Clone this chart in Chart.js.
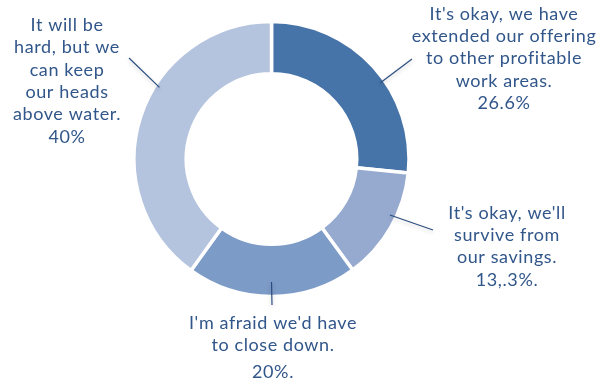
<!DOCTYPE html>
<html>
<head>
<meta charset="utf-8">
<script src="https://cdn.jsdelivr.net/npm/chart.js@4/dist/chart.umd.min.js"></script>
<style>
  html,body{margin:0;padding:0;background:#fff}
  #wrap{width:600px;height:382px;position:relative}
</style>
</head>
<body>
<div id="wrap"><canvas id="pie"></canvas></div>
<script>
// answers + their share of respondents
const answers = [
  "It's okay, we have\nextended our offering\nto other profitable\nwork areas.",
  "It's okay, we'll\nsurvive from\nour savings.",
  "I'm afraid we'd have\nto close down.",
  "It will be\nhard, but we\ncan keep\nour heads\nabove water."
];
const shares     = [26.6, 13.3, 20, 40];
const shareText  = ['26.6%', '13,.3%.', '20%.', '40%'];
const sliceColors = ['#4673a8', '#96aad0', '#7d9bc7', '#b4c3de'];

const TEXT_COL = '#31568a';
const FONT = '18px Lato, "Open Sans", sans-serif';

/* where each callout sits: text centre / first line, leader start (polar) and end */
const callouts = [
  { x:504, y:14,  lh:22.3, gap:0, ang:-35,    r:133, ex:412, ey:59 },
  { x:507, y:213, lh:22.3, gap:0, ang:25.3,   r:131, ex:433, ey:230 },
  { x:273, y:323, lh:22,   gap:5, ang:90,     r:123, ex:272, ey:305 },
  { x:67,  y:25,  lh:22.4, gap:0, ang:-147.4, r:133, ex:129, ey:58 }
];

const calloutPlugin = {
  id:'callouts',
  afterDatasetsDraw(chart){
    const ctx = chart.ctx;
    const arcs = chart.getDatasetMeta(0).data;
    ctx.save();
    arcs.forEach((arc, i) => {
      const c = callouts[i];
      const a = c.ang * Math.PI / 180;
      const sx = arc.x + Math.cos(a) * c.r;
      const sy = arc.y + Math.sin(a) * c.r;

      // leader line with a soft drop shadow
      ctx.save();
      ctx.shadowColor = 'rgba(0,0,0,0.22)';
      ctx.shadowBlur = 4;
      ctx.shadowOffsetY = 2;
      ctx.strokeStyle = '#2b4e80';
      ctx.lineWidth = 1.2;
      ctx.beginPath();
      ctx.moveTo(sx, sy);
      ctx.lineTo(c.ex, c.ey);
      ctx.stroke();
      ctx.restore();

      // text block
      ctx.fillStyle = TEXT_COL;
      ctx.font = FONT;
      ctx.letterSpacing = '0.6px';
      ctx.textAlign = 'center';
      ctx.textBaseline = 'middle';
      const lines = chart.data.labels[i].split('\n');
      lines.forEach((ln, k) => ctx.fillText(ln, c.x, c.y + k * c.lh));
      ctx.fillText(shareText[i], c.x, c.y + lines.length * c.lh + c.gap);
    });
    ctx.restore();
  }
};

new Chart(document.getElementById('pie'), {
  type:'doughnut',
  data:{
    labels: answers,
    datasets:[{
      data: shares,
      backgroundColor: sliceColors,
      borderColor:'#ffffff',
      borderWidth:3.5,
      hoverOffset:0
    }]
  },
  options:{
    responsive:true,
    maintainAspectRatio:false,
    animation:false,
    radius:137.5,
    cutout:'62%',
    layout:{ padding:{ left:100, right:157, top:0, bottom:64 } },
    plugins:{ legend:{display:false}, tooltip:{enabled:false} }
  },
  plugins:[calloutPlugin]
});
</script>
</body>
</html>
